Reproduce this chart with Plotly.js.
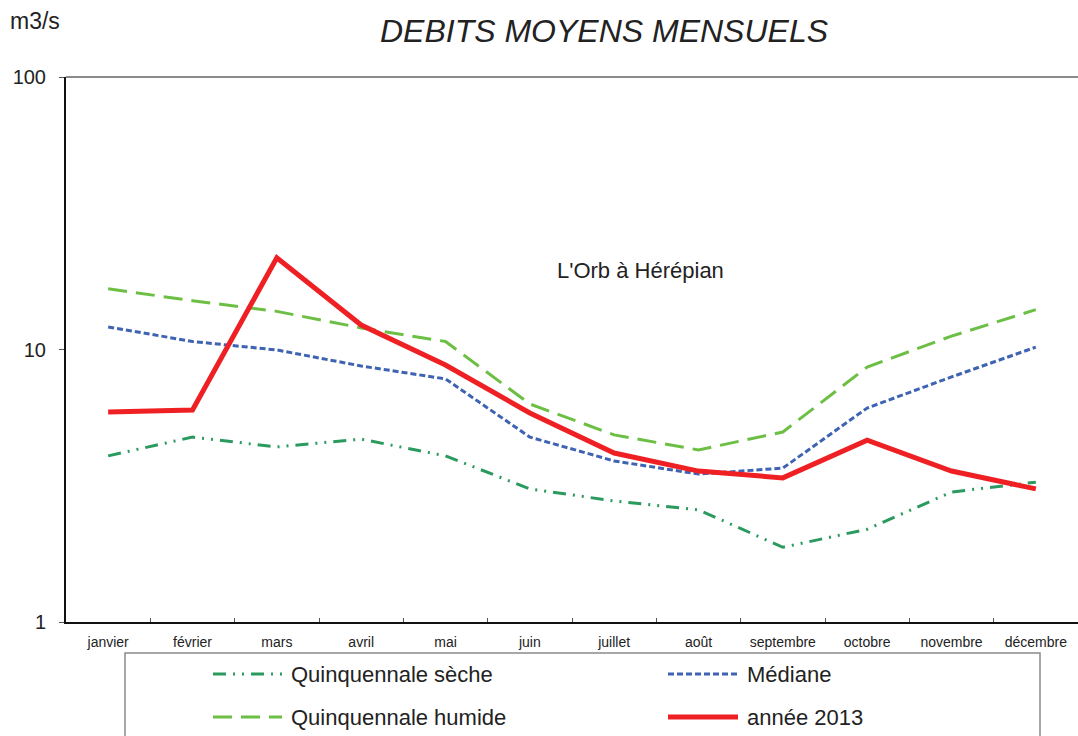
<!DOCTYPE html>
<html>
<head>
<meta charset="utf-8">
<script src="https://cdn.plot.ly/plotly-3.0.1.min.js"></script>
<style>html,body{margin:0;padding:0;background:#fff;}#chart{width:1078px;height:736px;}</style>
</head>
<body>
<div id="chart"></div>
<script>
const months = ["janvier","février","mars","avril","mai","juin","juillet","août","septembre","octobre","novembre","décembre"];
const seche   = [4.07, 4.77, 4.39, 4.69, 4.07, 3.08, 2.78, 2.58, 1.88, 2.19, 3.0, 3.26];
const mediane = [12.1, 10.7, 9.96, 8.7, 7.8, 4.77, 3.9, 3.49, 3.67, 6.1, 7.93, 10.2];
const humide  = [16.7, 15.1, 13.8, 12.0, 10.7, 6.31, 4.86, 4.28, 4.98, 8.62, 11.2, 14.0];
const annee2013 = [5.9, 6.0, 21.7, 12.3, 8.77, 5.85, 4.17, 3.58, 3.38, 4.65, 3.58, 3.08];
const seriesNames = ["Quinquennale sèche","Médiane","Quinquennale humide","année 2013"];
const yTicks = [1, 10, 100];
const titleText = "DEBITS MOYENS MENSUELS";
const unitText = "m3/s";
const stationText = "L'Orb à Hérépian";

const W = 1078, H = 736;
const M = {l: 66, r: 0, t: 77, b: 114};
const PW = W - M.l - M.r, PH = H - M.t - M.b;
const px = x => (x - M.l) / PW;
const py = y => (H - M.b - y) / PH;

const styles = [
  {color: "#2a9a5e", width: 3, dash: "13px,7px,2px,7px,2px,7px"},
  {color: "#3f63b3", width: 3, dash: "6px,3px"},
  {color: "#6cbf44", width: 3, dash: "19px,9px"},
  {color: "#ee2024", width: 5, dash: "solid"}
];
const data = [seche, mediane, humide, annee2013];

const traces = data.map((vals, i) => ({
  type: "scatter", mode: "lines", x: months, y: vals, name: seriesNames[i],
  line: {color: styles[i].color, width: styles[i].width, dash: styles[i].dash},
  showlegend: false, hoverinfo: "x+y+name"
}));

// manual legend
const legendPos = [
  {x0: 213, x1: 282, tx: 289, y: 674},
  {x0: 668, x1: 738, tx: 745, y: 674},
  {x0: 213, x1: 282, tx: 289, y: 717},
  {x0: 668, x1: 738, tx: 745, y: 717}
];
const shapes = [
  {type: "line", xref: "paper", yref: "paper", x0: 0, x1: 1, y0: 1, y1: 1, line: {color: "#8a8a8a", width: 2}},
  {type: "rect", xref: "paper", yref: "paper", x0: px(125), x1: px(1040), y0: py(653), y1: py(770), line: {color: "#8a8a8a", width: 1.5}, fillcolor: "rgba(0,0,0,0)"}
];
const annotations = [
  {xref: "paper", yref: "paper", x: px(8), y: py(21), xanchor: "left", yanchor: "middle", text: unitText, showarrow: false, font: {size: 23, color: "#222"}},
  {xref: "paper", yref: "paper", x: px(640), y: py(270), xanchor: "center", yanchor: "middle", text: stationText, showarrow: false, font: {size: 22, color: "#222"}}
];
legendPos.forEach((p, i) => {
  shapes.push({type: "line", xref: "paper", yref: "paper", x0: px(p.x0), x1: px(p.x1), y0: py(p.y), y1: py(p.y),
    line: {color: styles[i].color, width: styles[i].width, dash: styles[i].dash}});
  annotations.push({xref: "paper", yref: "paper", x: px(p.tx), y: py(p.y), xanchor: "left", yanchor: "middle",
    text: seriesNames[i], showarrow: false, font: {size: 22, color: "#222"}});
});

const layout = {
  width: W, height: H,
  margin: {l: M.l, r: M.r, t: M.t, b: M.b, pad: 0},
  paper_bgcolor: "#fff", plot_bgcolor: "#fff",
  font: {family: "Liberation Sans, Arial, sans-serif", color: "#222"},
  title: {text: "<i>" + titleText + "</i>", xref: "container", x: 604 / W, xanchor: "center", yref: "container", y: 1 - 31 / H, yanchor: "middle", font: {size: 32, color: "#222"}},
  xaxis: {
    type: "category", range: [-0.5, 11.5], showgrid: false, zeroline: false,
    showline: true, linecolor: "#111", linewidth: 2,
    ticks: "inside", ticklen: 4, tickcolor: "#555", tickson: "boundaries",
    tickfont: {size: 14, color: "#222"}, ticklabelstandoff: 6, fixedrange: true
  },
  yaxis: {
    type: "log", range: [0, 2], tickvals: yTicks, ticktext: yTicks.map(String),
    showgrid: false, zeroline: false, showline: true, linecolor: "#111", linewidth: 2,
    ticks: "outside", ticklen: 5, tickcolor: "#555",
    tickfont: {size: 20, color: "#222"}, ticklabelstandoff: 9, fixedrange: true
  },
  shapes: shapes, annotations: annotations, showlegend: false
};

Plotly.newPlot("chart", traces, layout, {displayModeBar: false, responsive: false});
</script>
</body>
</html>
